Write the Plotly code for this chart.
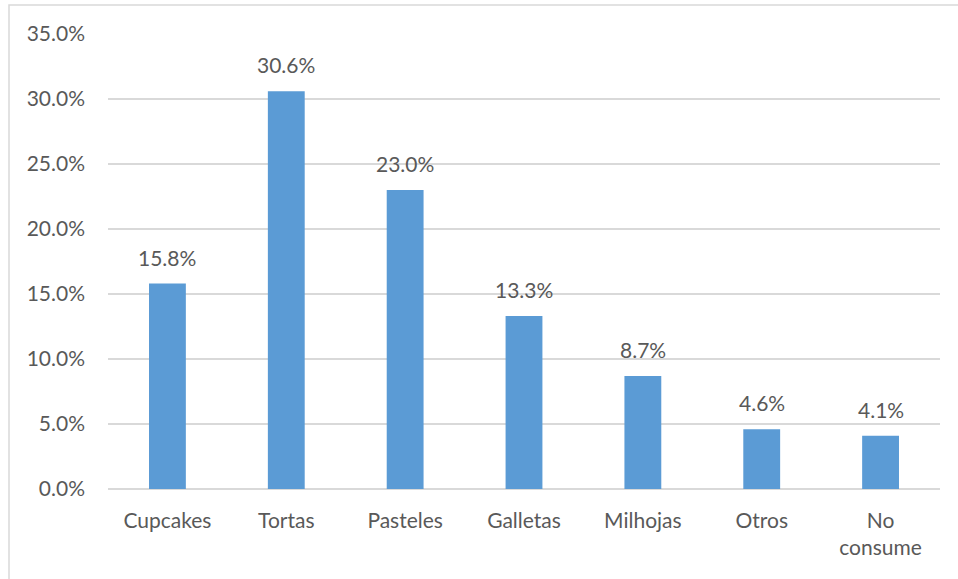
import plotly.graph_objects as go

categories = ["Cupcakes", "Tortas", "Pasteles", "Galletas", "Milhojas", "Otros", "No<br>consume"]
values = [15.8, 30.6, 23.0, 13.3, 8.7, 4.6, 4.1]
y_ticks = [0, 5, 10, 15, 20, 25, 30, 35]
y_tick_labels = [f"{v:.1f}%" for v in y_ticks]

W, H = 958, 579
ML, MR, MT, MB = 108, 18, 34, 90
FONT = "Lato"
FS = 21
TXT = "#595959"
GRID = "#d9d9d9"

fig = go.Figure()
fig.add_trace(go.Bar(
    x=categories, y=values,
    marker=dict(color="#5B9BD5", line=dict(width=0)),
    width=0.31,
    hoverinfo="skip",
))

# value labels above each bar
for c, v in zip(categories, values):
    fig.add_annotation(x=c, y=v, text=f"{v:.1f}%", showarrow=False,
                       yanchor="bottom", yshift=12,
                       font=dict(family=FONT, size=FS, color=TXT))

pw = W - ML - MR
ph = H - MT - MB
# light chart-area frame
fig.add_shape(type="rect", xref="paper", yref="paper",
              x0=(9 - ML) / pw, x1=(W + 5 - ML) / pw,
              y0=(H - MB - (H + 5)) / ph, y1=(H - MB - 5) / ph,
              line=dict(color=GRID, width=1.5), fillcolor="rgba(0,0,0,0)")

fig.update_layout(
    width=W, height=H,
    margin=dict(l=ML, r=MR, t=MT, b=MB),
    paper_bgcolor="white", plot_bgcolor="white",
    showlegend=False,
    font=dict(family=FONT, size=FS, color=TXT),
)
fig.update_xaxes(showgrid=False, showline=False, zeroline=False,
                 ticks="", ticklabelstandoff=17,
                 tickfont=dict(family=FONT, size=FS, color=TXT))
fig.update_yaxes(range=[0, 35], tickvals=y_ticks, ticktext=y_tick_labels,
                 showgrid=True, gridcolor=GRID, gridwidth=1.5,
                 zeroline=True, zerolinecolor=GRID, zerolinewidth=1.5,
                 showline=False, ticks="", ticklabelstandoff=22,
                 tickfont=dict(family=FONT, size=FS, color=TXT))

fig.write_html("out.html")
